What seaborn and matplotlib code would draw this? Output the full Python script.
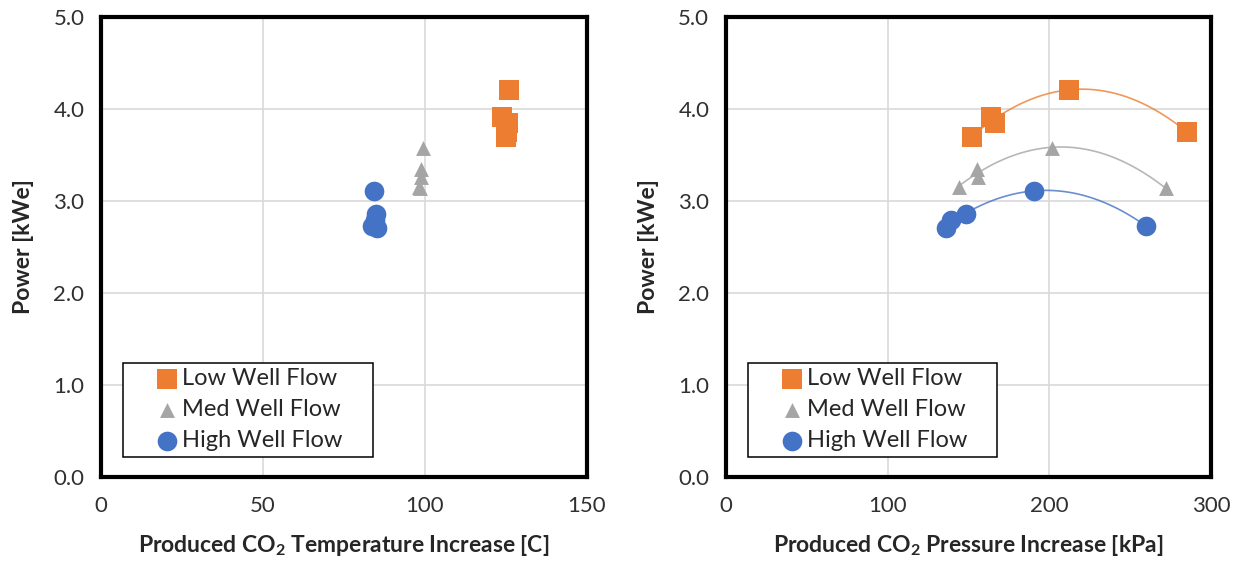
import numpy as np
import pandas as pd
import seaborn as sns
import matplotlib.pyplot as plt
from matplotlib.patches import Rectangle
from matplotlib.ticker import FormatStrFormatter, MultipleLocator

# ----------------------------
# Data
# ----------------------------
series = ["Low Well Flow", "Med Well Flow", "High Well Flow"]

low_temp = [124.9, 123.7, 125.7, 125.9, 125.3]
low_press = [152.3, 163.7, 166.4, 212.3, 285.1]
low_power = [3.70, 3.91, 3.85, 4.21, 3.75]

med_temp = [98.2, 98.9, 98.9, 99.3, 98.4]
med_press = [143.9, 155.0, 155.6, 201.4, 271.9]
med_power = [3.15, 3.35, 3.26, 3.58, 3.14]

high_temp = [85.1, 84.6, 84.9, 84.3, 83.5]
high_press = [136.1, 139.0, 148.4, 190.7, 259.6]
high_power = [2.71, 2.79, 2.86, 3.11, 2.73]

df = pd.DataFrame({
    "series": np.repeat(series, 5),
    "temp": low_temp + med_temp + high_temp,
    "press": low_press + med_press + high_press,
    "power": low_power + med_power + high_power,
})

colors = {"Low Well Flow": "#ED7D31", "Med Well Flow": "#A5A5A5", "High Well Flow": "#4472C4"}
markers = {"Low Well Flow": "s", "Med Well Flow": "^", "High Well Flow": "o"}
sizes = {"Low Well Flow": 190, "Med Well Flow": 115, "High Well Flow": 200}

sns.set_style("white")
plt.rcParams["font.family"] = ["Lato", "DejaVu Sans"]
plt.rcParams["mathtext.fontset"] = "custom"
plt.rcParams["mathtext.rm"] = "Lato"
plt.rcParams["mathtext.bf"] = "Lato:bold"
plt.rcParams["mathtext.it"] = "Lato:italic"

fig = plt.figure(figsize=(12.42, 5.65), dpi=100)
ax1 = fig.add_axes([0.0813, 0.1558, 0.3913, 0.8142])
ax2 = fig.add_axes([0.5845, 0.1558, 0.3905, 0.8142])


def style_axes(ax, xmax, xstep, xlabel):
    ax.set_xlim(0, xmax)
    ax.set_ylim(0, 5)
    ax.xaxis.set_major_locator(MultipleLocator(xstep))
    ax.yaxis.set_major_locator(MultipleLocator(1))
    ax.yaxis.set_major_formatter(FormatStrFormatter("%.1f"))
    ax.grid(True, color="#D9D9D9", linewidth=1.2, zorder=0)
    ax.set_axisbelow(True)
    for sp in ax.spines.values():
        sp.set_color("black")
        sp.set_linewidth(3)
    ax.tick_params(axis="both", direction="out", length=5, width=1,
                   labelsize=16, colors="black")
    ax.tick_params(axis="x", pad=9)
    ax.tick_params(axis="y", pad=7)
    ax.tick_params(axis="both", labelcolor="#303030")
    ax.set_xlabel(xlabel, fontsize=16.5, fontweight="bold", labelpad=12)
    ax.set_ylabel("Power [kWe]", fontsize=16.5, fontweight="bold", labelpad=14)


def draw_points(ax, xcol):
    for s in series:
        d = df[df["series"] == s]
        sns.scatterplot(data=d, x=xcol, y="power", ax=ax, color=colors[s],
                        marker=markers[s], s=sizes[s], linewidth=0,
                        label=s, zorder=3)
    # Excel-style legend: wide box with centred content
    ax.add_patch(Rectangle((0.045, 0.0435), 0.5145, 0.2043, transform=ax.transAxes,
                           facecolor="white", edgecolor="black", linewidth=1.1,
                           zorder=4))
    leg = ax.legend(loc="upper left", bbox_to_anchor=(0.104, 0.236),
                    borderaxespad=0, borderpad=0, frameon=False, fontsize=17,
                    handletextpad=0.0, labelspacing=0.42, handlelength=1.3)
    leg.set_zorder(5)


# Left: temperature increase
draw_points(ax1, "temp")
style_axes(ax1, 150, 50, r"Produced CO$_\mathbf{2}$ Temperature Increase [C]")

# Right: pressure increase with 2nd-order trendlines
for s in series:
    d = df[df["series"] == s]
    sns.regplot(data=d, x="press", y="power", ax=ax2, order=2, ci=None,
                scatter=False, truncate=True,
                line_kws={"color": colors[s], "linewidth": 1.2, "alpha": 0.8, "zorder": 2})
draw_points(ax2, "press")
style_axes(ax2, 300, 100, r"Produced CO$_\mathbf{2}$ Pressure Increase [kPa]")

plt.savefig("out.png", dpi=100)
